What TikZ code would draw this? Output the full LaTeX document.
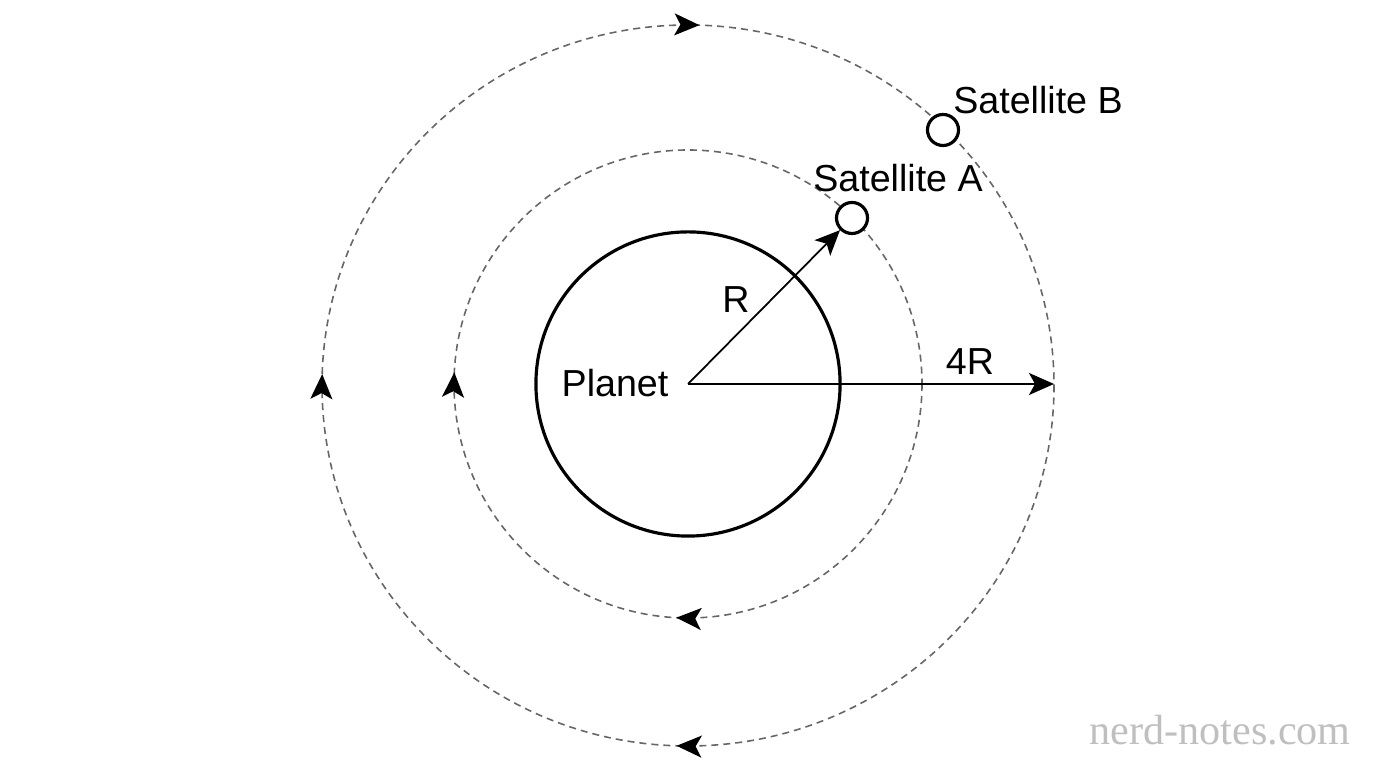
\documentclass[tikz,border=0pt]{standalone}
\usepackage{fontspec}
\setmainfont{Liberation Sans}
\newfontfamily\wmfont{Liberation Serif}
\usetikzlibrary{arrows.meta, decorations.markings}

\begin{document}
\begin{tikzpicture}[
    x=0.01cm, y=-0.01cm,
    >={Stealth[length=0.25cm, width=0.22cm, inset=0.06cm]},
    orbit/.style={draw=black!60, line width=0.45pt, dash pattern=on 0.07cm off 0.05cm},
    body/.style={circle, draw=black, line width=0.9pt, inner sep=0pt},
    lbl/.style={font=\fontsize{10.7}{13}\selectfont, inner sep=0pt},
    radius line/.style={->, line width=0.5pt}
  ]
    \useasboundingbox (0,0) rectangle (1376,768);
    \coordinate (c) at (688,384);
    \coordinate (oc) at (688,385.5);
    % orbits, traversed clockwise
    \draw[orbit, postaction={decorate, decoration={markings,
        mark=at position 0.255 with {\arrow[black]{>}},
        mark=at position 0.505 with {\arrow[black]{>}},
        mark=at position 0.755 with {\arrow[black]{>}}}}]
      (oc) ellipse [x radius=366, y radius=360.5];
    \draw[orbit, postaction={decorate, decoration={markings,
        mark=at position 0.258 with {\arrow[black]{>}},
        mark=at position 0.508 with {\arrow[black]{>}}}}]
      (c) circle [radius=234];
    % planet and satellites
    \node[body, minimum size=3.04cm] (planet) at (c) {};
    \node[body, fill=white, minimum size=0.31cm] (satA) at (852,218) {};
    \node[body, fill=white, minimum size=0.31cm] (satB) at (943,130) {};
    \coordinate (rim) at (1054,384);
    \draw[radius line] (c) -- (satA);
    \draw[radius line] (c) -- (rim);
    % labels
    \node[lbl] (planetlbl) at (615,383) {Planet};
    \node[lbl] (rlbl) at (736,300) {R};
    \node[lbl] (fourr) at (970,362) {4R};
    \node[lbl] (satAlbl) at (898,178) {Satellite A};
    \node[lbl] (satBlbl) at (1038,100) {Satellite B};
    \node[font=\wmfont\fontsize{12}{14}\selectfont, text=black!25, inner sep=0pt] (wm) at (1220,730) {nerd-notes.com};
\end{tikzpicture}
\end{document}
